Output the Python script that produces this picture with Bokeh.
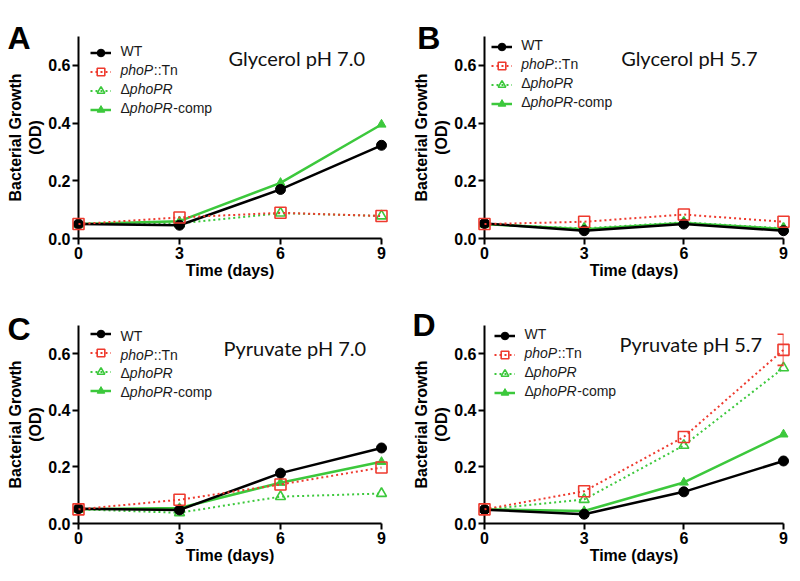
from bokeh.plotting import figure
from bokeh.models import (Range1d, FixedTicker, PrintfTickFormatter, Legend, LegendItem,
                          Label, Whisker, ColumnDataSource, TeeHead)
from bokeh.core.properties import value
from bokeh.layouts import gridplot
from bokeh.embed import file_html
from bokeh.resources import INLINE

# ---------------- data ----------------
days = [0, 3, 6, 9]
x_ticks = [0, 3, 6, 9]
y_ticks = [0.0, 0.2, 0.4, 0.6]
# legend names, split into (text, font style) pieces
series_names = [
    [("WT", "normal")],
    [("phoP", "italic"), ("::Tn", "normal")],
    [("\u0394", "normal"), ("phoPR", "italic")],
    [("\u0394", "normal"), ("phoPR", "italic"), ("-comp", "normal")],
]

panel_letters = ["A", "B", "C", "D"]
panel_titles = ["Glycerol pH 7.0", "Glycerol pH 5.7", "Pyruvate pH 7.0", "Pyruvate pH 5.7"]

wt_a = [0.050, 0.046, 0.170, 0.323]
tn_a = [0.050, 0.073, 0.089, 0.078]
dpr_a = [0.050, 0.052, 0.088, 0.078]
comp_a = [0.050, 0.060, 0.193, 0.395]

wt_b = [0.052, 0.027, 0.050, 0.027]
tn_b = [0.050, 0.058, 0.083, 0.058]
dpr_b = [0.050, 0.035, 0.056, 0.035]
comp_b = [0.050, 0.032, 0.054, 0.033]

wt_c = [0.052, 0.048, 0.178, 0.267]
tn_c = [0.050, 0.084, 0.138, 0.198]
dpr_c = [0.050, 0.038, 0.095, 0.106]
comp_c = [0.050, 0.055, 0.144, 0.218]

wt_d = [0.049, 0.033, 0.112, 0.221]
tn_d = [0.050, 0.114, 0.306, 0.614]
dpr_d = [0.050, 0.085, 0.276, 0.550]
comp_d = [0.050, 0.044, 0.145, 0.315]
tn_d_err = [0.0, 0.0, 0.0, 0.055]

RED = "#ee3a2e"
GREEN = "#3cc83c"
FONT = "Liberation Sans"
LEG_SIZE = 14

# approximate advance widths (1/1000 em) of Liberation Sans, for chaining legend text pieces
CHAR_W = {"W": 944, "T": 611, "p": 556, "h": 556, "o": 556, "P": 667, "R": 722, ":": 278,
          "n": 556, "-": 333, "c": 500, "m": 833, "\u0394": 668}

W = 400
XMAX, YMAX = 9, 0.7


def text_width(s):
    return sum(CHAR_W.get(ch, 556) for ch in s) / 1000.0 * LEG_SIZE


def make_panel(wt, tn, dpr, comp, geom, err=None):
    H, left, right, top, bottom, leg_x, leg_top = geom
    fw = W - left - right
    fh = H - top - bottom
    p = figure(width=W, height=H, output_backend="svg", toolbar_location=None,
               x_range=Range1d(0, XMAX), y_range=Range1d(0, YMAX),
               min_border_left=left, min_border_right=right,
               min_border_top=top, min_border_bottom=bottom)
    p.grid.visible = False
    p.outline_line_color = None
    p.background_fill_color = "white"

    for ax in (p.xaxis[0], p.yaxis[0]):
        ax.axis_line_width = 2
        ax.axis_line_color = "black"
        ax.major_tick_line_width = 2
        ax.major_tick_line_color = "black"
        ax.major_tick_out = 6
        ax.major_tick_in = 0
        ax.minor_tick_line_color = None
        ax.major_label_text_font = FONT
        ax.major_label_text_font_style = "bold"
        ax.major_label_text_font_size = "16px"
        ax.major_label_text_color = "black"
        ax.axis_label_text_font = FONT
        ax.axis_label_text_font_style = "bold"
        ax.axis_label_text_font_size = "16px"
        ax.axis_label_text_color = "black"
    p.xaxis.ticker = FixedTicker(ticks=x_ticks)
    p.xaxis.formatter = PrintfTickFormatter(format="%d")
    p.yaxis.ticker = FixedTicker(ticks=y_ticks)
    p.yaxis.formatter = PrintfTickFormatter(format="%.1f")
    p.xaxis.axis_label = "Time (days)"
    p.yaxis.axis_label = "Bacterial Growth\n(OD)"
    p.xaxis.major_label_standoff = 2
    p.yaxis.major_label_standoff = 2
    p.xaxis.axis_label_standoff = 0
    p.yaxis.axis_label_standoff = 1

    src = ColumnDataSource(dict(x=days, wt=wt, tn=tn, dpr=dpr, comp=comp))

    l_dpr = p.line("x", "dpr", source=src, color=GREEN, line_width=2, line_dash="2 3", level="overlay")
    s_dpr = p.scatter("x", "dpr", source=src, marker="triangle", size=10, line_color=GREEN,
                      fill_color=None, line_width=1.6, level="overlay")
    l_comp = p.line("x", "comp", source=src, color=GREEN, line_width=2.5, level="overlay")
    s_comp = p.scatter("x", "comp", source=src, marker="triangle", size=9, line_color=GREEN,
                       fill_color=GREEN, level="overlay")
    l_wt = p.line("x", "wt", source=src, color="black", line_width=2.5, level="overlay")
    s_wt = p.scatter("x", "wt", source=src, marker="circle", size=10, color="black", level="overlay")
    l_tn = p.line("x", "tn", source=src, color=RED, line_width=2, line_dash="2 3", level="overlay")
    s_tn = p.scatter("x", "tn", source=src, marker="square", size=11, line_color=RED,
                     fill_color=None, line_width=1.6, level="overlay")

    if err is not None:
        esrc = ColumnDataSource(dict(x=[d for d, e in zip(days, err) if e > 0],
                                     upper=[v + e for v, e in zip(tn, err) if e > 0],
                                     lower=[v - e for v, e in zip(tn, err) if e > 0]))
        wh = Whisker(source=esrc, base="x", upper="upper", lower="lower", dimension="height",
                     line_color=RED, line_width=1.6, level="overlay",
                     upper_head=TeeHead(size=12, line_color=RED, line_width=1.6),
                     lower_head=TeeHead(size=12, line_color=RED, line_width=1.6))
        p.add_layout(wh)

    # legend: Bokeh legend draws the glyph samples; mixed italic/regular labels are Labels
    groups = [[l_wt, s_wt], [l_tn, s_tn], [l_dpr, s_dpr], [l_comp, s_comp]]
    items = [LegendItem(label="", renderers=g) for g in groups]
    pad, rowh, sp = 4, 19, 0
    leg_h = 2 * pad + 4 * rowh + 3 * sp
    legend = Legend(items=items,
                    location=(leg_x - pad, fh - (leg_top - 2 - pad - rowh / 2) - leg_h),
                    padding=pad, margin=0, spacing=sp, glyph_width=21, glyph_height=rowh,
                    label_height=rowh, label_standoff=10,
                    label_text_font=FONT, label_text_font_size="%dpx" % LEG_SIZE,
                    background_fill_alpha=0, border_line_color=None)
    p.add_layout(legend)

    def dx(px):
        return (px - left) / fw * XMAX

    def dy(py):
        return (H - bottom - py) / fh * YMAX

    text_x0 = left + leg_x + 26
    for k, pieces in enumerate(series_names):
        cy = top + leg_top + k * (rowh + sp)
        cx = text_x0
        for txt, style in pieces:
            p.add_layout(Label(x=dx(cx), y=dy(cy), text=txt, text_font=FONT,
                               text_font_style=style, text_font_size="%dpx" % LEG_SIZE,
                               text_baseline="middle", text_color="#1a1a1a"))
            cx += text_width(txt) + (0.6 if style == "italic" else 0)

    return p, dx, dy


# (height, left, right, top, bottom, legend x offset, legend first-row centre offset)
geoms = [
    (290, 78, 19, 36, 52, 16, 14),
    (290, 83, 15, 36, 52, 11, 8),
    (291, 78, 19, 32, 56, 16, 11),
    (291, 84, 17, 35, 58, 14, 8),
]
# (letter x, letter baseline y, title x, title baseline y) in figure pixels
text_pos = [
    (7, 37, 228, 57),
    (15, 37, 221, 57),
    (7, 36, 223, 55),
    (12, 34, 219, 53),
]

data = [(wt_a, tn_a, dpr_a, comp_a, None),
        (wt_b, tn_b, dpr_b, comp_b, None),
        (wt_c, tn_c, dpr_c, comp_c, None),
        (wt_d, tn_d, dpr_d, comp_d, tn_d_err)]

figs = []
for i in range(4):
    wt, tn, dpr, comp, err = data[i]
    p, dx, dy = make_panel(wt, tn, dpr, comp, geoms[i], err)
    lx, ly, tx, ty = text_pos[i]
    p.text(x=[dx(lx)], y=[dy(ly)], text=[panel_letters[i]], text_font=value(FONT),
           text_font_style="bold", text_font_size="32px", text_baseline="alphabetic",
           text_align="left", text_color="black", level="overlay")
    p.add_layout(Label(x=dx(tx), y=dy(ty), text=panel_titles[i], text_font="Lato",
                       text_font_size="20px", text_baseline="alphabetic", text_color="#111111"))
    figs.append(p)

grid = gridplot([[figs[0], figs[1]], [figs[2], figs[3]]], toolbar_location=None)

open("out.html", "w").write(file_html(grid, INLINE))
